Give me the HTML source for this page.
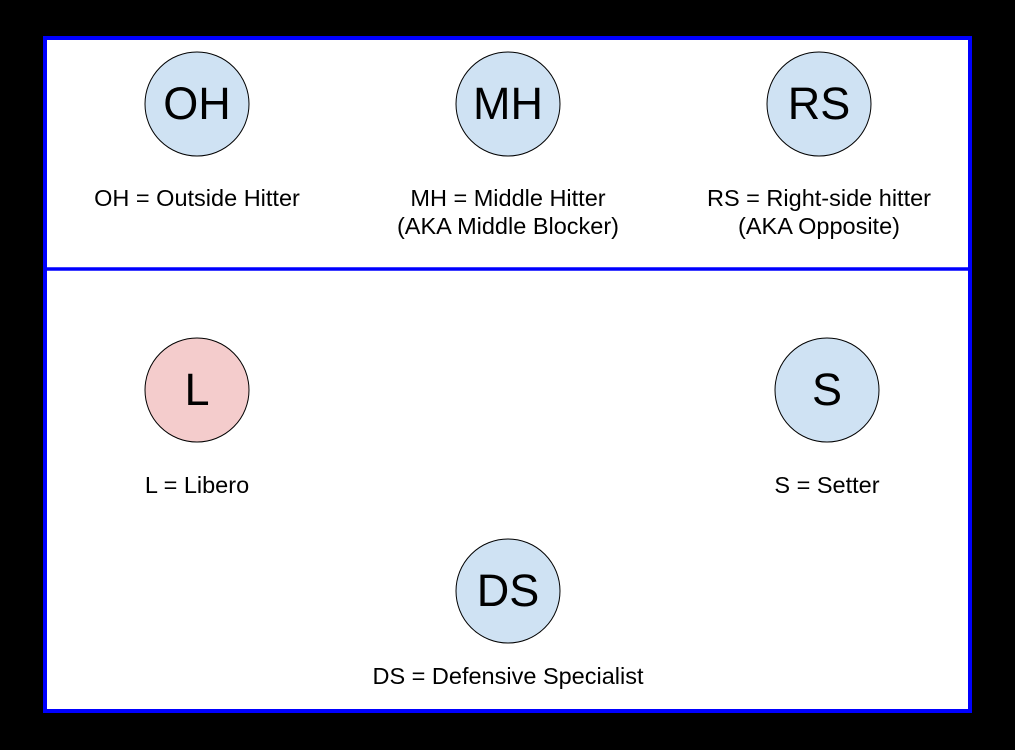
<!DOCTYPE html>
<html><head><style>html,body{margin:0;padding:0;background:#000;width:1015px;height:750px;overflow:hidden}</style></head>
<body>
<svg width="1015" height="750" xmlns="http://www.w3.org/2000/svg" font-family="Liberation Sans, Arial, sans-serif">
<rect x="0" y="0" width="1015" height="750" fill="#000"/>
<rect x="45" y="38" width="925" height="673" fill="#fff" stroke="#0000ff" stroke-width="4"/>
<line x1="45" y1="269" x2="970" y2="269" stroke="#0000ff" stroke-width="3.5"/>
<g stroke="#000" stroke-width="1" fill="#cfe2f3">
<circle cx="197" cy="104" r="52"/>
<circle cx="508" cy="104" r="52"/>
<circle cx="819" cy="104" r="52"/>
<circle cx="197" cy="390" r="52" fill="#f4cccc"/>
<circle cx="827" cy="390" r="52"/>
<circle cx="508" cy="591" r="52"/>
</g>
<g font-size="45" text-anchor="middle" fill="#000">
<text x="197" y="119">OH</text>
<text x="508" y="119">MH</text>
<text x="819" y="119">RS</text>
<text x="197" y="405">L</text>
<text x="827" y="405">S</text>
<text x="508" y="606">DS</text>
</g>
<g font-size="23.5" text-anchor="middle" fill="#000">
<text x="197" y="206">OH = Outside Hitter</text>
<text x="508" y="206">MH = Middle Hitter</text>
<text x="508" y="234">(AKA Middle Blocker)</text>
<text x="819" y="206">RS = Right-side hitter</text>
<text x="819" y="234">(AKA Opposite)</text>
<text x="197" y="493">L = Libero</text>
<text x="827" y="493">S = Setter</text>
<text x="508" y="684">DS = Defensive Specialist</text>
</g>
</svg>
</body></html>
